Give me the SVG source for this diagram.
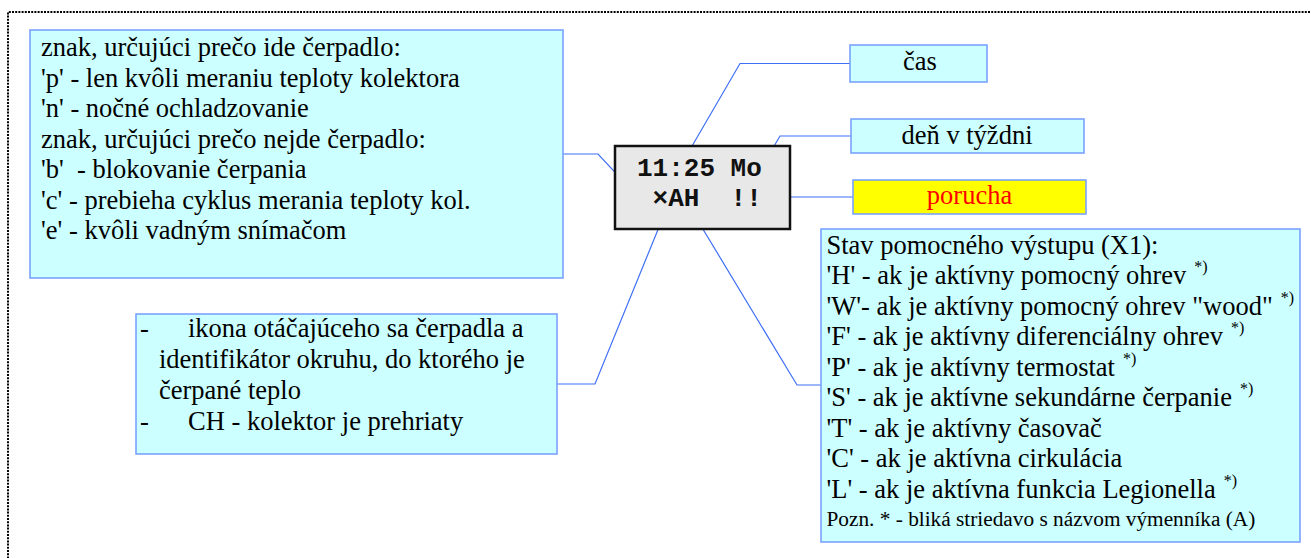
<svg xmlns="http://www.w3.org/2000/svg" width="1311" height="558" viewBox="0 0 1311 558">
<style>
.box{fill:#ccffff;stroke:#7ba2ff;stroke-width:1.6}
.t{font-family:"Liberation Serif","Times New Roman",serif;font-size:26.5px;fill:#000}
.s{font-size:16px}
.sm{font-family:"Liberation Serif","Times New Roman",serif;font-size:21.3px;fill:#000}
.mono{font-family:"Liberation Mono","Courier New",monospace;font-weight:bold;font-size:26px;fill:#111}
.c{fill:none;stroke:#3f6ff5;stroke-width:1.2}
</style>
<rect width="1311" height="558" fill="#ffffff"/>
<path d="M8 600 V12 H1320" fill="none" stroke="#000" stroke-width="2" stroke-dasharray="2 1.2"/>

<g id="connectors">
<polyline class="c" points="563,154 598,154 642,201"/>
<polyline class="c" points="688,153 740,63.5 850,63.5"/>
<polyline class="c" points="763,165 780,136 851,136"/>
<polyline class="c" points="758,197 853,197"/>
<polyline class="c" points="666,210 595,384 557,384"/>
<polyline class="c" points="692,211 797,385 821,385"/>
</g>

<g id="reasons">
<rect class="box" x="30" y="30" width="533" height="248"/>
<text class="t" x="41" y="56">znak, určujúci prečo ide čerpadlo:</text>
<text class="t" x="41" y="86.5">'p' - len kvôli meraniu teploty kolektora</text>
<text class="t" x="41" y="117">'n' - nočné ochladzovanie</text>
<text class="t" x="41" y="147.5">znak, určujúci prečo nejde čerpadlo:</text>
<text class="t" x="41" y="178" xml:space="preserve">'b'  - blokovanie čerpania</text>
<text class="t" x="41" y="208.5">'c' - prebieha cyklus merania teploty kol.</text>
<text class="t" x="41" y="239">'e' - kvôli vadným snímačom</text>
</g>

<g id="display">
<rect x="615" y="146" width="175" height="83" fill="#e8e8e8" stroke="#111" stroke-width="2.5"/>
<text class="mono" x="637" y="176">11:25 Mo</text>
<text class="mono" x="652.6" y="206" xml:space="preserve">×AH  !!</text>
</g>

<g id="cas">
<rect class="box" x="850" y="45" width="137" height="37"/>
<text class="t" x="920" y="70" text-anchor="middle">čas</text>
</g>

<g id="den">
<rect class="box" x="851" y="119" width="233" height="34"/>
<text class="t" x="967" y="143.5" text-anchor="middle">deň v týždni</text>
</g>

<g id="porucha">
<rect x="853" y="180" width="233" height="34" fill="#ffff00" stroke="#7ba2ff" stroke-width="1.6"/>
<text class="t" x="969.5" y="204" text-anchor="middle" fill="#ff0000" style="fill:#ff0000">porucha</text>
</g>

<g id="pump">
<rect class="box" x="136" y="314" width="421" height="140"/>
<text class="t" x="140" y="337">-</text>
<text class="t" x="188" y="337">ikona otáčajúceho sa čerpadla a</text>
<text class="t" x="159" y="368">identifikátor okruhu, do ktorého je</text>
<text class="t" x="159" y="399">čerpané teplo</text>
<text class="t" x="140" y="430">-</text>
<text class="t" x="188" y="430">CH - kolektor je prehriaty</text>
</g>

<g id="aux">
<rect class="box" x="821" y="229" width="479" height="313"/>
<text class="t" x="826.5" y="253.5">Stav pomocného výstupu (X1):</text>
<text class="t" x="826.5" y="284">'H' - ak je aktívny pomocný ohrev<tspan class="s" dx="8" dy="-12">*)</tspan></text>
<text class="t" x="826.5" y="314.5">'W'- ak je aktívny pomocný ohrev "wood"<tspan class="s" dx="8" dy="-12">*)</tspan></text>
<text class="t" x="826.5" y="345">'F' - ak je aktívny diferenciálny ohrev<tspan class="s" dx="8" dy="-12">*)</tspan></text>
<text class="t" x="826.5" y="375.5">'P' - ak je aktívny termostat<tspan class="s" dx="8" dy="-12">*)</tspan></text>
<text class="t" x="826.5" y="406">'S' - ak je aktívne sekundárne čerpanie<tspan class="s" dx="8" dy="-12">*)</tspan></text>
<text class="t" x="826.5" y="436.5">'T' - ak je aktívny časovač</text>
<text class="t" x="826.5" y="467">'C' - ak je aktívna cirkulácia</text>
<text class="t" x="826.5" y="497.5">'L' - ak je aktívna funkcia Legionella<tspan class="s" dx="8" dy="-12">*)</tspan></text>
<text class="sm" x="826.5" y="525.5">Pozn. * - bliká striedavo s názvom výmenníka (A)</text>
</g>
</svg>
